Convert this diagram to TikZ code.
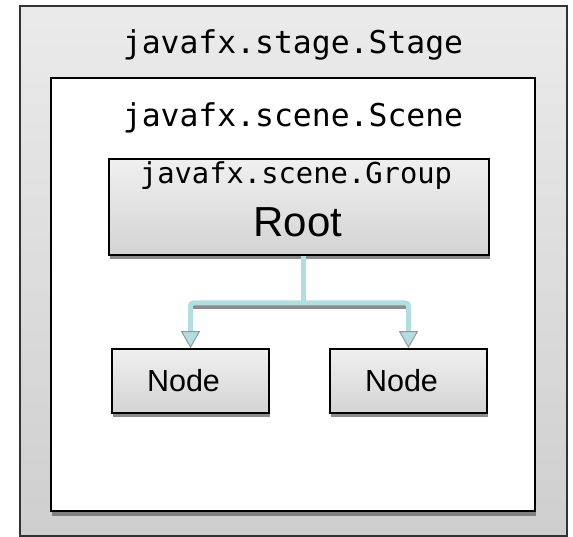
\documentclass[tikz,border=0pt]{standalone}
\usepackage{xcolor}
\usepackage{tikz}
\usepackage{fontspec}
\setmainfont{Liberation Sans}
\setmonofont{DejaVu Sans Mono}
\usetikzlibrary{positioning,shapes,arrows.meta,shadows}

\definecolor{linkblue}{RGB}{178,222,226}
\definecolor{tipgray}{RGB}{150,150,150}

\begin{document}
\begin{tikzpicture}[
    x=1pt,
    y=-1pt,
    thick,
    outerbox/.style={
        rectangle,
        draw=black!80,
        line width=1.6pt,
        top color=black!8,
        bottom color=black!19,
        inner sep=0pt
    },
    innerbox/.style={
        rectangle,
        draw=black,
        line width=1.8pt,
        fill=white,
        inner sep=0pt,
        drop shadow={shadow xshift=1pt, shadow yshift=-5pt, fill=black!50, opacity=1}
    },
    block/.style={
        rectangle,
        draw=black,
        line width=1.6pt,
        top color=black!6,
        bottom color=black!17,
        inner sep=0pt,
        drop shadow={shadow xshift=1pt, shadow yshift=-4pt, fill=black!45, opacity=1}
    },
    title/.style={font=\fontsize{31.4}{36}\selectfont\ttfamily, inner sep=0pt},
    link/.style={draw=linkblue, line width=5pt, rounded corners=3pt},
    linktip/.style={-{Triangle[width=19pt, length=17pt, line width=1pt, fill=linkblue, color=tipgray]}},
    barshadow/.style={draw=black!45, line width=5pt}
]
    \useasboundingbox (0,0) rectangle (573,537);

    % Stage
    \node[outerbox, minimum width=547, minimum height=530] (stage) at (293.5,271) {};
    \node[title] (stagetitle) at (293,45) {javafx.stage.Stage};

    % Scene
    \node[innerbox, minimum width=484, minimum height=433] (scene) at (293,294.5) {};
    \node[title] (scenetitle) at (293,118) {javafx.scene.Scene};

    % Root group
    \node[block, minimum width=380, minimum height=96] (root) at (299,207) {};
    \node[title, font=\fontsize{28.8}{33}\selectfont\ttfamily] (grouptitle) at (296,176) {javafx.scene.Group};
    \node[inner sep=0pt, font=\fontsize{42}{48}\selectfont] (roottext) at (298,222) {Root};

    % Children
    \node[block, minimum width=157, minimum height=64, font=\fontsize{30.5}{35}\selectfont] (nodea) at (190.5,381) {Node\hspace*{14pt}};
    \node[block, minimum width=157, minimum height=64, font=\fontsize{30.5}{35}\selectfont] (nodeb) at (408.5,381) {Node\hspace*{14pt}};

    % Connections
    \coordinate (split) at (303,303);
    \draw[barshadow] ([yshift=-4pt]nodea.north |- split) -- ([yshift=-4pt]nodeb.north |- split);
    \draw[link] (root.south -| split) -- (split);
    \draw[link, linktip] (split) -| (nodea.north);
    \draw[link, linktip] (split) -| (nodeb.north);
\end{tikzpicture}
\end{document}
